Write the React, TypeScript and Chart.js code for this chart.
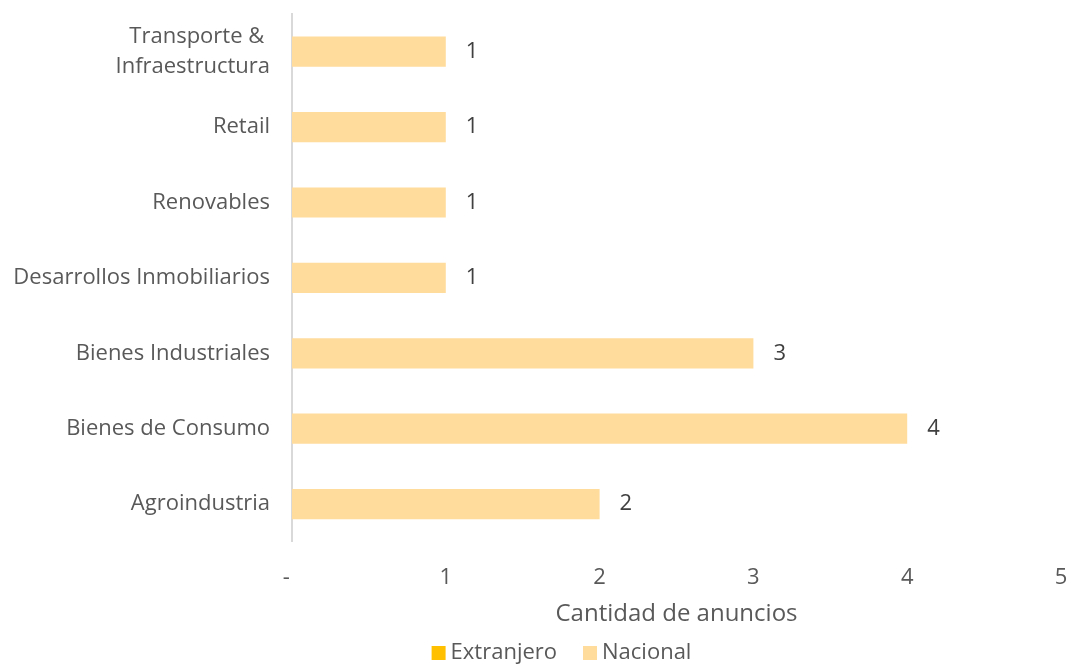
import React, { useEffect, useRef } from "react";
import { Chart, registerables } from "chart.js";

Chart.register(...registerables);

const categories: (string | string[])[] = [
  ["Transporte & ", "Infraestructura"],
  "Retail",
  "Renovables",
  "Desarrollos Inmobiliarios",
  "Bienes Industriales",
  "Bienes de Consumo",
  "Agroindustria",
];
const extranjero = [0, 0, 0, 0, 0, 0, 0];
const nacional = [1, 1, 1, 1, 3, 4, 2];
const xTicks = [0, 1, 2, 3, 4, 5];
const seriesNames = ["Extranjero", "Nacional"];
const seriesColors = ["#FFC000", "#FFDC9C"];

const FONT = "'Open Sans', 'Noto Sans', sans-serif";
const TEXT = "#595959";

const labelPlugin = {
  id: "valueLabels",
  afterDatasetsDraw(chart: any) {
    const ctx = chart.ctx;
    const meta = chart.getDatasetMeta(1);
    ctx.save();
    ctx.font = `22px ${FONT}`;
    ctx.fillStyle = "#404040";
    ctx.textAlign = "left";
    ctx.textBaseline = "middle";
    meta.data.forEach((bar: any, i: number) => {
      const total = extranjero[i] + nacional[i];
      ctx.fillText(String(total), bar.x + 20, bar.y);
    });
    ctx.restore();
  },
};

const legendPlugin = {
  id: "customLegend",
  afterDraw(chart: any) {
    const ctx = chart.ctx;
    ctx.save();
    ctx.font = `22px ${FONT}`;
    ctx.textBaseline = "middle";
    ctx.textAlign = "left";
    const box = 14;
    const gapText = 5;
    const gapItem = 26;
    const widths = seriesNames.map((n) => box + gapText + ctx.measureText(n).width);
    const total = widths.reduce((a, b) => a + b, 0) + gapItem * (seriesNames.length - 1);
    let x = chart.width / 2 + 26 - total / 2;
    const y = chart.height - 12;
    seriesNames.forEach((n, i) => {
      ctx.fillStyle = seriesColors[i];
      ctx.fillRect(x, y - box / 2, box, box);
      ctx.fillStyle = TEXT;
      ctx.fillText(n, x + box + gapText, y);
      x += widths[i] + gapItem;
    });
    ctx.restore();
  },
};

export default function App() {
  const ref = useRef<HTMLCanvasElement>(null);
  useEffect(() => {
    if (!ref.current) return;
    const chart = new Chart(ref.current, {
      type: "bar",
      data: {
        labels: categories as any,
        datasets: seriesNames.map((name, i) => ({
          label: name,
          data: i === 0 ? extranjero : nacional,
          backgroundColor: seriesColors[i],
          barPercentage: 0.4,
          categoryPercentage: 1,
        })),
      },
      options: {
        indexAxis: "y",
        animation: false,
        responsive: false,
        layout: { padding: { top: 14, right: 10, left: 0, bottom: 30 } },
        scales: {
          x: {
            stacked: true,
            min: 0,
            max: 5,
            afterBuildTicks: (axis: any) => {
              axis.ticks = xTicks.map((v) => ({ value: v }));
            },
            afterFit: (axis: any) => {
              axis.paddingRight = 0;
              axis.paddingLeft = 0;
            },
            ticks: {
              color: TEXT,
              font: { family: FONT, size: 22 },
              padding: 23,
              callback: (v: any) => (Number(v) === 0 ? "-  " : String(v)),
            },
            grid: { display: false, drawTicks: false },
            border: { display: false },
            title: {
              display: true,
              text: "Cantidad de anuncios",
              color: TEXT,
              font: { family: FONT, size: 24 },
              padding: { top: -14, bottom: 6 },
            },
          },
          y: {
            stacked: true,
            afterFit: (axis: any) => {
              axis.width = 292;
              axis.paddingTop = 0;
              axis.paddingBottom = 0;
            },
            ticks: {
              color: TEXT,
              font: { family: FONT, size: 22, lineHeight: 1.35 },
              padding: 22,
            },
            grid: { display: false, drawTicks: false },
            border: { display: true, color: "#D9D9D9", width: 2 },
          },
        },
        plugins: {
          legend: { display: false },
          tooltip: { enabled: false },
        },
      },
      plugins: [labelPlugin, legendPlugin],
    });
    return () => chart.destroy();
  }, []);
  return (
    <div style={{ position: "absolute", left: 0, top: 0, width: 1071, height: 665 }}>
      <canvas ref={ref} width={1071} height={665} />
    </div>
  );
}
